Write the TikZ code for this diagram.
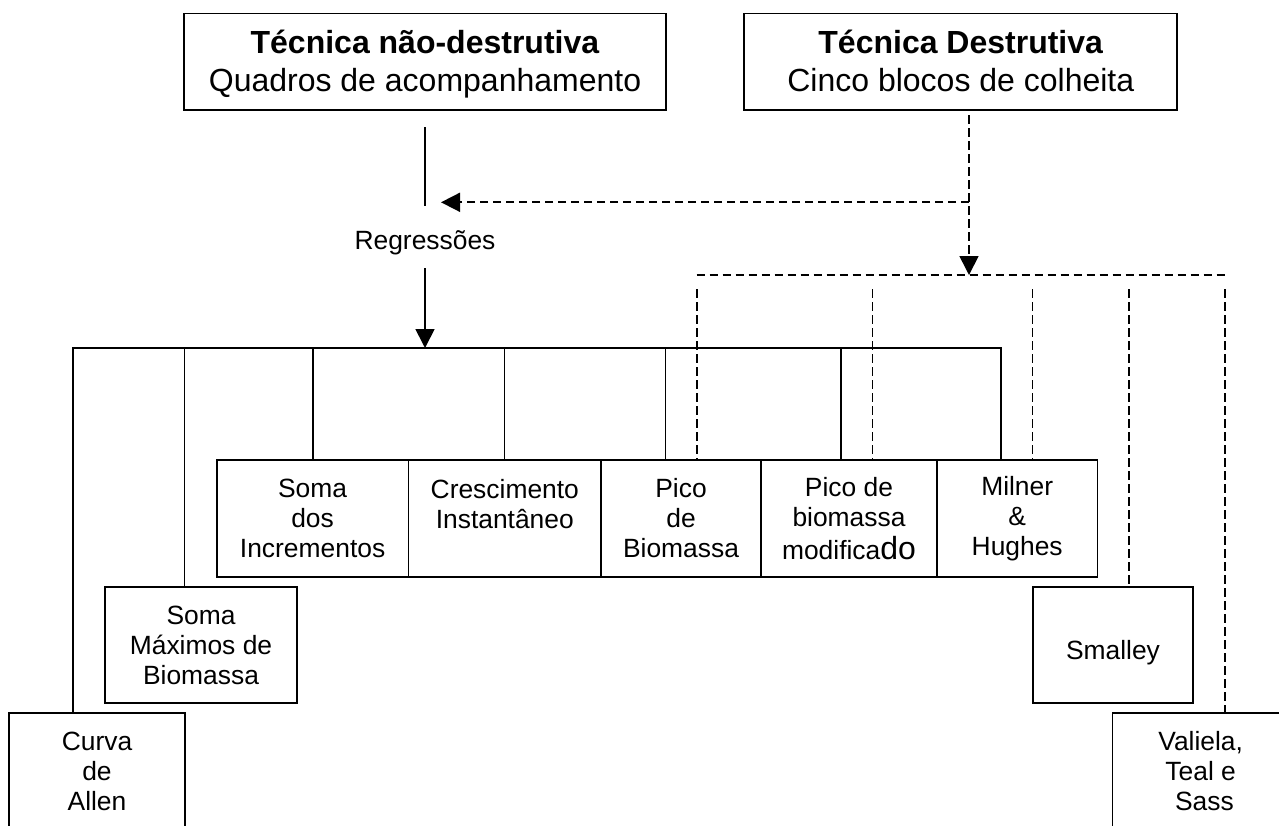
\documentclass[tikz,border=0pt]{standalone}
\usepackage{fontspec}
\setmainfont{Liberation Sans}
\usetikzlibrary{arrows.meta}
\newcommand{\altotopo}{\rule{0pt}{29pt}}
\newcommand{\baixotopo}{\rule[-7pt]{0pt}{7pt}}
\tikzset{
  caixa/.style={draw,line width=1.7pt,inner sep=0pt,align=center,minimum height=117pt,font=\fontsize{26.4}{30}\selectfont},
  caixatopo/.style={caixa,minimum height=96.7pt,font=\fontsize{32}{38}\selectfont},
  tracejado/.style={dash pattern=on 8.5pt off 4.5pt}
}
\begin{document}
\begin{tikzpicture}[>={Triangle[length=19pt,width=19pt]},x=1pt,y=-1pt,line width=1.7pt]
	\useasboundingbox (0,0) rectangle (1279,825);
	% caixas de topo
	\node[caixatopo,minimum width=481.4pt] (naodest) at (425,61.7) {\altotopo\textbf{Técnica não-destrutiva}\\Quadros de acompanhamento\baixotopo};
	\node[caixatopo,minimum width=433pt] (dest) at (960.8,61.7) {\altotopo\textbf{Técnica Destrutiva}\\Cinco blocos de colheita\baixotopo};
	\node[font=\fontsize{26.4}{30}\selectfont,inner sep=12pt] (regr) at (425,243) {Regressões};
	% metodos
	\node[caixa,minimum width=191.8pt] (somainc) at (312.6,518.5) {Soma\\dos\\Incrementos};
	\node[caixa,minimum width=192.5pt] (cresc) at (504.8,518.5) {Crescimento\\Instantâneo\\\mbox{}};
	\node[caixa,minimum width=160pt] (picob) at (681,518.5) {Pico\\de\\Biomassa};
	\node[caixa,minimum width=176pt] (picomod) at (849,518.5) {Pico de\\biomassa\\[3pt]modifica{\fontsize{32}{30}\selectfont do}};
	\node[caixa,minimum width=160.3pt] (milner) at (1017.2,518.5) {Milner\\\&\\Hughes};
	\node[caixa,minimum width=192.6pt,minimum height=116.6pt] (somamax) at (201,645) {Soma\\Máximos de\\Biomassa};
	\node[caixa,minimum width=160.6pt,minimum height=116.6pt,text height=28pt,text depth=0pt] (smalley) at (1113,645) {Smalley};
	\node[caixa,minimum width=176.6pt] (curva) at (97,771.5) {Curva\\de\\Allen};
	\node[caixa,minimum width=176.5pt] (valiela) at (1200.7,771.5) {Valiela,\\Teal e\\\ Sass};
	% tecnica nao-destrutiva
	\coordinate (nd1) at (425,127);
	\coordinate (nd2) at (425,205.7);
	\coordinate (barra) at (425,348);
	\draw (nd1) -- (nd2);
	\draw[->] (regr) -- (barra);
	\draw (curva.north -| 72.7,0) -- (72.7,348) -- (1001,348) -- (milner.north -| 1001,0);
	\foreach \x/\n in {184.5/somamax,312.7/somainc,504.5/cresc,665.5/picob,840.7/picomod}
		\draw (\x,348) -- (\n.north -| \x,0);
	% tecnica destrutiva
	\coordinate (d1) at (969,115);
	\coordinate (d2) at (969,202.3);
	\coordinate (d3) at (969,275);
	\coordinate (seta) at (441,202.3);
	\draw[tracejado,->] (d1) -- (d3);
	\draw[tracejado,->] (d2) -- (seta);
	\draw[tracejado] (696.5,275) -- (1225.5,275);
	\foreach \x/\n in {696.7/picob,872.5/picomod,1032.5/milner,1129/smalley,1225/valiela}
		\draw[tracejado] (\x,289) -- (\n.north -| \x,0);
\end{tikzpicture}
\end{document}
